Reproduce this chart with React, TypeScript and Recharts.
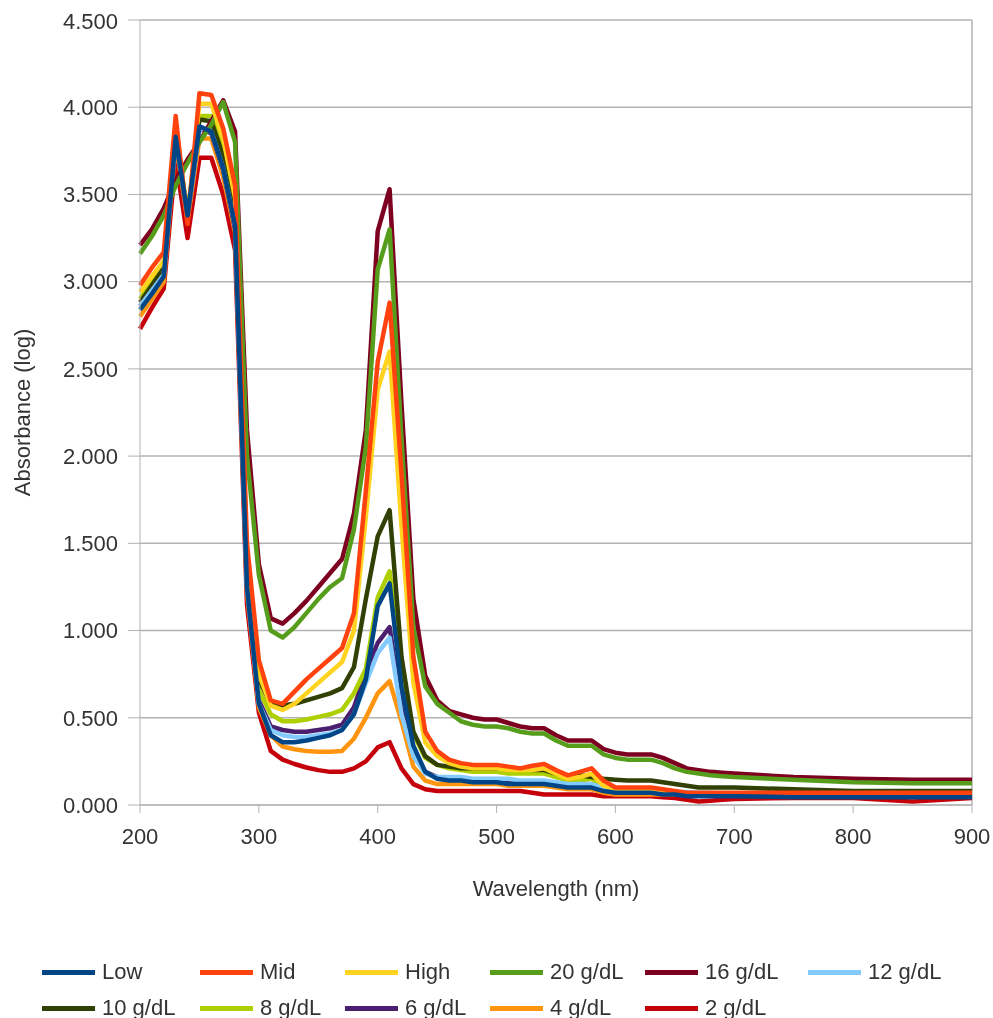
import React from 'react';
import { LineChart, Line, XAxis, YAxis, CartesianGrid, Legend, ReferenceLine } from 'recharts';

// wavelength grid (nm)
const WAVELENGTHS = [
  200, 210, 220, 230, 240, 250, 260, 270, 280, 290,
  300, 310, 320, 330, 340, 350, 360, 370, 380, 390,
  400, 410, 420, 430, 440, 450, 460, 470, 480, 490,
  500, 510, 520, 530, 540, 550, 560, 570, 580, 590,
  600, 610, 620, 630, 640, 650, 660, 670, 680, 690,
  700, 750, 800, 850, 900,
];

const LOW = [
  2.84, 2.93, 3.03, 3.83, 3.38, 3.89, 3.86, 3.65, 3.32, 1.25,
  0.58, 0.40, 0.36, 0.36, 0.37, 0.385, 0.40, 0.43, 0.52, 0.72,
  1.14, 1.27, 0.68, 0.34, 0.19, 0.15, 0.14, 0.14, 0.13, 0.13,
  0.13, 0.12, 0.12, 0.12, 0.12, 0.11, 0.10, 0.10, 0.10, 0.08,
  0.07, 0.07, 0.07, 0.07, 0.06, 0.06, 0.05, 0.05, 0.05, 0.05,
  0.05, 0.045, 0.045, 0.045, 0.045,
];

const MID = [
  2.98, 3.08, 3.17, 3.95, 3.33, 4.08, 4.07, 3.88, 3.55, 1.50,
  0.83, 0.60, 0.58, 0.65, 0.72, 0.78, 0.84, 0.90, 1.10, 1.80,
  2.54, 2.88, 1.90, 0.85, 0.42, 0.31, 0.26, 0.24, 0.23, 0.23,
  0.23, 0.22, 0.21, 0.225, 0.235, 0.20, 0.17, 0.19, 0.21, 0.14,
  0.10, 0.10, 0.10, 0.10, 0.09, 0.08, 0.07, 0.07, 0.07, 0.07,
  0.07, 0.07, 0.07, 0.07, 0.07,
];

const HIGH = [
  2.94, 3.03, 3.12, 3.90, 3.36, 4.02, 4.02, 3.82, 3.48, 1.40,
  0.75, 0.57, 0.545, 0.58, 0.64, 0.70, 0.76, 0.82, 1.00, 1.65,
  2.38, 2.60, 1.60, 0.70, 0.36, 0.28, 0.24, 0.22, 0.21, 0.21,
  0.21, 0.20, 0.20, 0.20, 0.21, 0.18, 0.15, 0.16, 0.18, 0.11,
  0.09, 0.09, 0.09, 0.09, 0.08, 0.07, 0.065, 0.06, 0.06, 0.06,
  0.06, 0.06, 0.06, 0.06, 0.06,
];

const G20 = [
  3.16, 3.26, 3.38, 3.55, 3.68, 3.80, 3.90, 4.03, 3.80, 2.00,
  1.32, 1.00, 0.96, 1.02, 1.10, 1.18, 1.25, 1.30, 1.58, 2.05,
  3.07, 3.30, 2.10, 1.02, 0.68, 0.58, 0.53, 0.48, 0.46, 0.45,
  0.45, 0.44, 0.42, 0.41, 0.41, 0.37, 0.34, 0.34, 0.34, 0.29,
  0.27, 0.26, 0.26, 0.26, 0.24, 0.21, 0.19, 0.18, 0.17, 0.165,
  0.16, 0.145, 0.13, 0.125, 0.125,
];

const G16 = [
  3.21, 3.30, 3.42, 3.58, 3.70, 3.80, 3.92, 4.04, 3.86, 2.15,
  1.38, 1.07, 1.04, 1.10, 1.17, 1.25, 1.33, 1.41, 1.67, 2.15,
  3.29, 3.53, 2.30, 1.18, 0.74, 0.60, 0.54, 0.52, 0.50, 0.49,
  0.49, 0.47, 0.45, 0.44, 0.44, 0.40, 0.37, 0.37, 0.37, 0.32,
  0.30, 0.29, 0.29, 0.29, 0.27, 0.24, 0.21, 0.20, 0.19, 0.185,
  0.18, 0.16, 0.15, 0.145, 0.145,
];

const G12 = [
  2.86, 2.95, 3.04, 3.83, 3.37, 3.88, 3.86, 3.65, 3.32, 1.25,
  0.58, 0.43, 0.40, 0.39, 0.39, 0.40, 0.41, 0.43, 0.52, 0.70,
  0.87, 0.96, 0.52, 0.28, 0.18, 0.16, 0.16, 0.16, 0.15, 0.15,
  0.15, 0.15, 0.14, 0.14, 0.14, 0.13, 0.12, 0.12, 0.12, 0.10,
  0.09, 0.09, 0.09, 0.09, 0.08, 0.075, 0.075, 0.07, 0.07, 0.065,
  0.065, 0.065, 0.065, 0.065, 0.065,
];

const G10 = [
  2.88, 2.98, 3.08, 3.86, 3.38, 3.93, 3.92, 3.72, 3.40, 1.38,
  0.72, 0.58, 0.57, 0.58, 0.60, 0.62, 0.64, 0.67, 0.79, 1.18,
  1.54, 1.69, 0.85, 0.42, 0.28, 0.23, 0.22, 0.21, 0.21, 0.21,
  0.21, 0.21, 0.21, 0.20, 0.20, 0.18, 0.17, 0.17, 0.16, 0.15,
  0.145, 0.14, 0.14, 0.14, 0.13, 0.12, 0.11, 0.10, 0.10, 0.10,
  0.10, 0.09, 0.08, 0.08, 0.08,
];

const G8 = [
  2.90, 3.00, 3.10, 3.88, 3.38, 3.95, 3.95, 3.75, 3.42, 1.35,
  0.66, 0.52, 0.48, 0.48, 0.49, 0.505, 0.52, 0.545, 0.64, 0.78,
  1.19, 1.34, 0.75, 0.41, 0.27, 0.23, 0.21, 0.20, 0.19, 0.19,
  0.19, 0.18, 0.18, 0.18, 0.18, 0.16, 0.14, 0.14, 0.15, 0.10,
  0.09, 0.09, 0.09, 0.08, 0.08, 0.07, 0.065, 0.06, 0.06, 0.06,
  0.06, 0.06, 0.06, 0.06, 0.06,
];

const G6 = [
  2.86, 2.95, 3.04, 3.82, 3.37, 3.88, 3.85, 3.64, 3.30, 1.25,
  0.60, 0.45, 0.43, 0.42, 0.42, 0.43, 0.44, 0.46, 0.56, 0.76,
  0.93, 1.02, 0.56, 0.30, 0.19, 0.16, 0.15, 0.15, 0.14, 0.14,
  0.14, 0.13, 0.13, 0.13, 0.13, 0.12, 0.11, 0.11, 0.11, 0.09,
  0.08, 0.08, 0.08, 0.08, 0.07, 0.07, 0.06, 0.06, 0.06, 0.055,
  0.055, 0.05, 0.05, 0.05, 0.05,
];

const G4 = [
  2.80, 2.90, 3.00, 3.80, 3.35, 3.82, 3.82, 3.60, 3.28, 1.22,
  0.56, 0.40, 0.335, 0.32, 0.31, 0.305, 0.305, 0.31, 0.38, 0.50,
  0.64, 0.71, 0.48, 0.22, 0.14, 0.12, 0.12, 0.12, 0.12, 0.12,
  0.12, 0.11, 0.11, 0.11, 0.11, 0.10, 0.09, 0.09, 0.09, 0.07,
  0.06, 0.06, 0.06, 0.06, 0.06, 0.06, 0.06, 0.06, 0.065, 0.065,
  0.065, 0.065, 0.065, 0.065, 0.065,
];

const G2 = [
  2.73, 2.85, 2.96, 3.70, 3.25, 3.71, 3.71, 3.50, 3.18, 1.15,
  0.53, 0.31, 0.26, 0.235, 0.215, 0.20, 0.19, 0.19, 0.21, 0.25,
  0.33, 0.36, 0.21, 0.12, 0.09, 0.08, 0.08, 0.08, 0.08, 0.08,
  0.08, 0.08, 0.08, 0.07, 0.06, 0.06, 0.06, 0.06, 0.06, 0.05,
  0.05, 0.05, 0.05, 0.05, 0.045, 0.04, 0.03, 0.02, 0.025, 0.03,
  0.035, 0.04, 0.04, 0.02, 0.04,
];

const X_TICKS = [200, 300, 400, 500, 600, 700, 800, 900];
const Y_TICKS = [0, 0.5, 1, 1.5, 2, 2.5, 3, 3.5, 4, 4.5];

const SERIES = [
  { key: 'low', name: 'Low', color: '#004586', values: LOW },
  { key: 'mid', name: 'Mid', color: '#ff420e', values: MID },
  { key: 'high', name: 'High', color: '#ffd320', values: HIGH },
  { key: 'g20', name: '20 g/dL', color: '#579d1c', values: G20 },
  { key: 'g16', name: '16 g/dL', color: '#7e0021', values: G16 },
  { key: 'g12', name: '12 g/dL', color: '#83caff', values: G12 },
  { key: 'g10', name: '10 g/dL', color: '#314004', values: G10 },
  { key: 'g8', name: '8 g/dL', color: '#aecf00', values: G8 },
  { key: 'g6', name: '6 g/dL', color: '#4b1f6f', values: G6 },
  { key: 'g4', name: '4 g/dL', color: '#ff950e', values: G4 },
  { key: 'g2', name: '2 g/dL', color: '#c5000b', values: G2 },
];

const rows = WAVELENGTHS.map((wl, i) => {
  const row: Record<string, number> = { wl };
  SERIES.forEach(s => { row[s.key] = s.values[i]; });
  return row;
});

const FONT = '"Liberation Sans", Arial, sans-serif';
const TEXT = '#333333';
const GRID = '#b3b3b3';

// legend layout: 6 columns, 2 rows
const LEGEND_COLS = [34, 192, 337, 482, 637, 800];
const LEGEND_ROWS = [34, 70];

const renderLegend = () => (
  <div style={{ position: 'relative', height: 80, fontFamily: FONT, fontSize: 22, color: TEXT }}>
    {SERIES.map((s, i) => {
      const left = LEGEND_COLS[i % 6];
      const top = LEGEND_ROWS[Math.floor(i / 6)];
      return (
        <div key={s.key} style={{ position: 'absolute', left, top: top - 13, height: 26, display: 'flex', alignItems: 'center', whiteSpace: 'nowrap' }}>
          <span style={{ display: 'inline-block', width: 53, height: 5, background: s.color, marginRight: 7 }} />
          <span>{s.name}</span>
        </div>
      );
    })}
  </div>
);

const App: React.FC = () => {
  // fixed so the slightly-too-tall chart does not add a scrollbar
  return (
    <div style={{ position: 'fixed', top: 8, left: 8, width: 985, height: 1010, fontFamily: FONT }}>
      <LineChart width={985} height={1010} data={rows} margin={{ top: 12, right: 21, bottom: 0, left: 0 }} style={{ fontFamily: FONT }}>
        <CartesianGrid vertical={false} stroke={GRID} strokeWidth={1.5} />
        <XAxis
          dataKey="wl"
          type="number"
          domain={[200, 900]}
          ticks={X_TICKS}
          height={133}
          tickSize={8}
          tickMargin={15}
          stroke={GRID}
          tick={{ fill: TEXT, fontSize: 22 }}
          label={{
            content: () => (
              <text x={132 + 416} y={888} textAnchor="middle" fill={TEXT} fontSize={22} fontFamily={FONT}>
                Wavelength (nm)
              </text>
            ),
          }}
        />
        <YAxis
          type="number"
          domain={[0, 4.5]}
          ticks={Y_TICKS}
          width={132}
          tickSize={12}
          tickMargin={10}
          stroke={GRID}
          tickFormatter={(v: number) => v.toFixed(3)}
          tick={{ fill: TEXT, fontSize: 22 }}
          label={{
            content: () => (
              <text x={22} y={404.5} transform="rotate(-90, 22, 404.5)" textAnchor="middle" fill={TEXT} fontSize={22} fontFamily={FONT}>
                Absorbance (log)
              </text>
            ),
          }}
        />
        <ReferenceLine x={900} stroke={GRID} strokeWidth={1.5} />
        {[...SERIES].reverse().map(s => (
          <Line
            key={s.key}
            type="linear"
            dataKey={s.key}
            name={s.name}
            stroke={s.color}
            strokeWidth={4.5}
            strokeLinejoin="round"
            dot={false}
            activeDot={false}
            isAnimationActive={false}
          />
        ))}
        <Legend verticalAlign="bottom" content={renderLegend} />
      </LineChart>
    </div>
  );
};

export default App;
